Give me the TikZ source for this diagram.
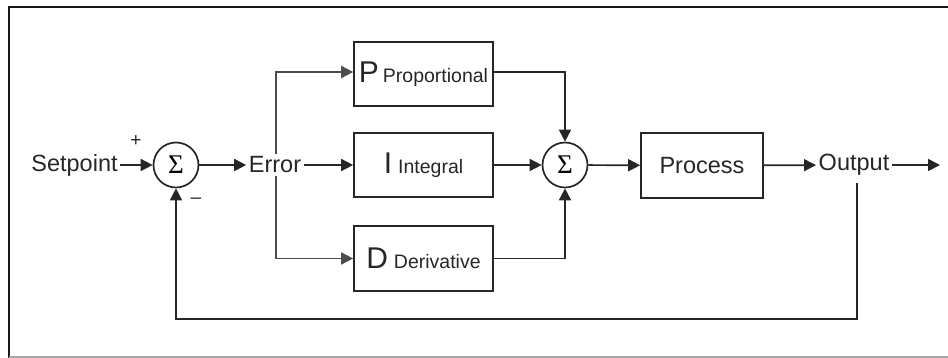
\documentclass[tikz,border=0pt]{standalone}
\usepackage{fontspec}
\setmainfont{Liberation Sans}
\newfontfamily\sigfont{Liberation Serif}
\usetikzlibrary{arrows.meta,calc}
\tikzset{
  line/.style={draw=black!85, line width=1.7pt},
  arr/.style={line, -{Triangle[length=12pt,width=12pt]}},
  sumnode/.style={circle, draw=black!85, line width=1.7pt, minimum size=45pt, inner sep=0pt, font=\sigfont\fontsize{27}{27}\selectfont},
  blk/.style={rectangle, draw=black!85, line width=1.7pt, minimum width=139pt, minimum height=64pt, inner sep=0pt},
  lbl/.style={inner sep=2.5pt, text=black!85, font=\fontsize{23.5}{26}\selectfont},
  sign/.style={inner sep=0pt, text=black!85, font=\fontsize{19}{19}\selectfont},
}
\newcommand{\bigltr}[1]{{\fontsize{30}{30}\selectfont #1}}
\newcommand{\smltxt}[1]{{\fontsize{19.5}{20}\selectfont #1}}
\begin{document}
\begin{tikzpicture}[x=1pt,y=-1pt]
\useasboundingbox (0,0) rectangle (948,358);
% frame
\draw[black!90, line width=2pt] (948,7) -- (9,7) -- (9,358);
\draw[black!35, line width=1.5pt] (9,357) -- (948,357);

\node[lbl] (sp) at (74.5,165) {Setpoint};
\node[sumnode] (s1) at (176,165) {Σ};
\node[sign] (plus) at (136,141) {+};
\node[sign] (minus) at (196,201) {–};
\node[lbl] (err) at (275,165) {Error};
\node[blk, text=black!85] (P) at (423.5,74) {\bigltr{P}\hspace{4pt}\smltxt{Proportional}};
\node[blk, text=black!85] (I) at (423.5,165) {\bigltr{I}\hspace{6pt}\smltxt{Integral}};
\node[blk, text=black!85, minimum height=65pt] (D) at (423.5,258.5) {\bigltr{D}\hspace{6pt}\smltxt{Derivative}};
\node[sumnode] (s2) at (565,165) {Σ};
\node[blk, lbl, minimum width=122pt, minimum height=65pt, draw=black!85, line width=1.7pt] (proc) at (702,165.5) {Process};
\node[lbl] (out) at (854,165) {Output};
\coordinate (end) at (940,165);
\coordinate (fb) at ([xshift=3pt,yshift=-5pt]out.south);

\draw[arr] (sp) -- (s1);
\draw[arr] (s1) -- (err);
\draw[arr] (err) -- (I);
\draw[line, draw=black!70, -{Triangle[length=12pt,width=12pt]}] ([xshift=1pt]err.north) |- ([yshift=2pt]P.west);
\draw[line, draw=black!70, -{Triangle[length=12pt,width=12pt]}] ([xshift=1pt]err.south) |- (D.west);
\draw[arr] ([yshift=2pt]P.east) -| (s2.north);
\draw[arr] (D.east) -| (s2.south);
\draw[arr] (I) -- (s2);
\draw[arr] (s2) -- (proc);
\draw[arr] (proc) -- (out);
\draw[arr] (out) -- (end);
\draw[arr] (fb) -- ++(0,136) -| (s1.south);
\end{tikzpicture}
\end{document}
